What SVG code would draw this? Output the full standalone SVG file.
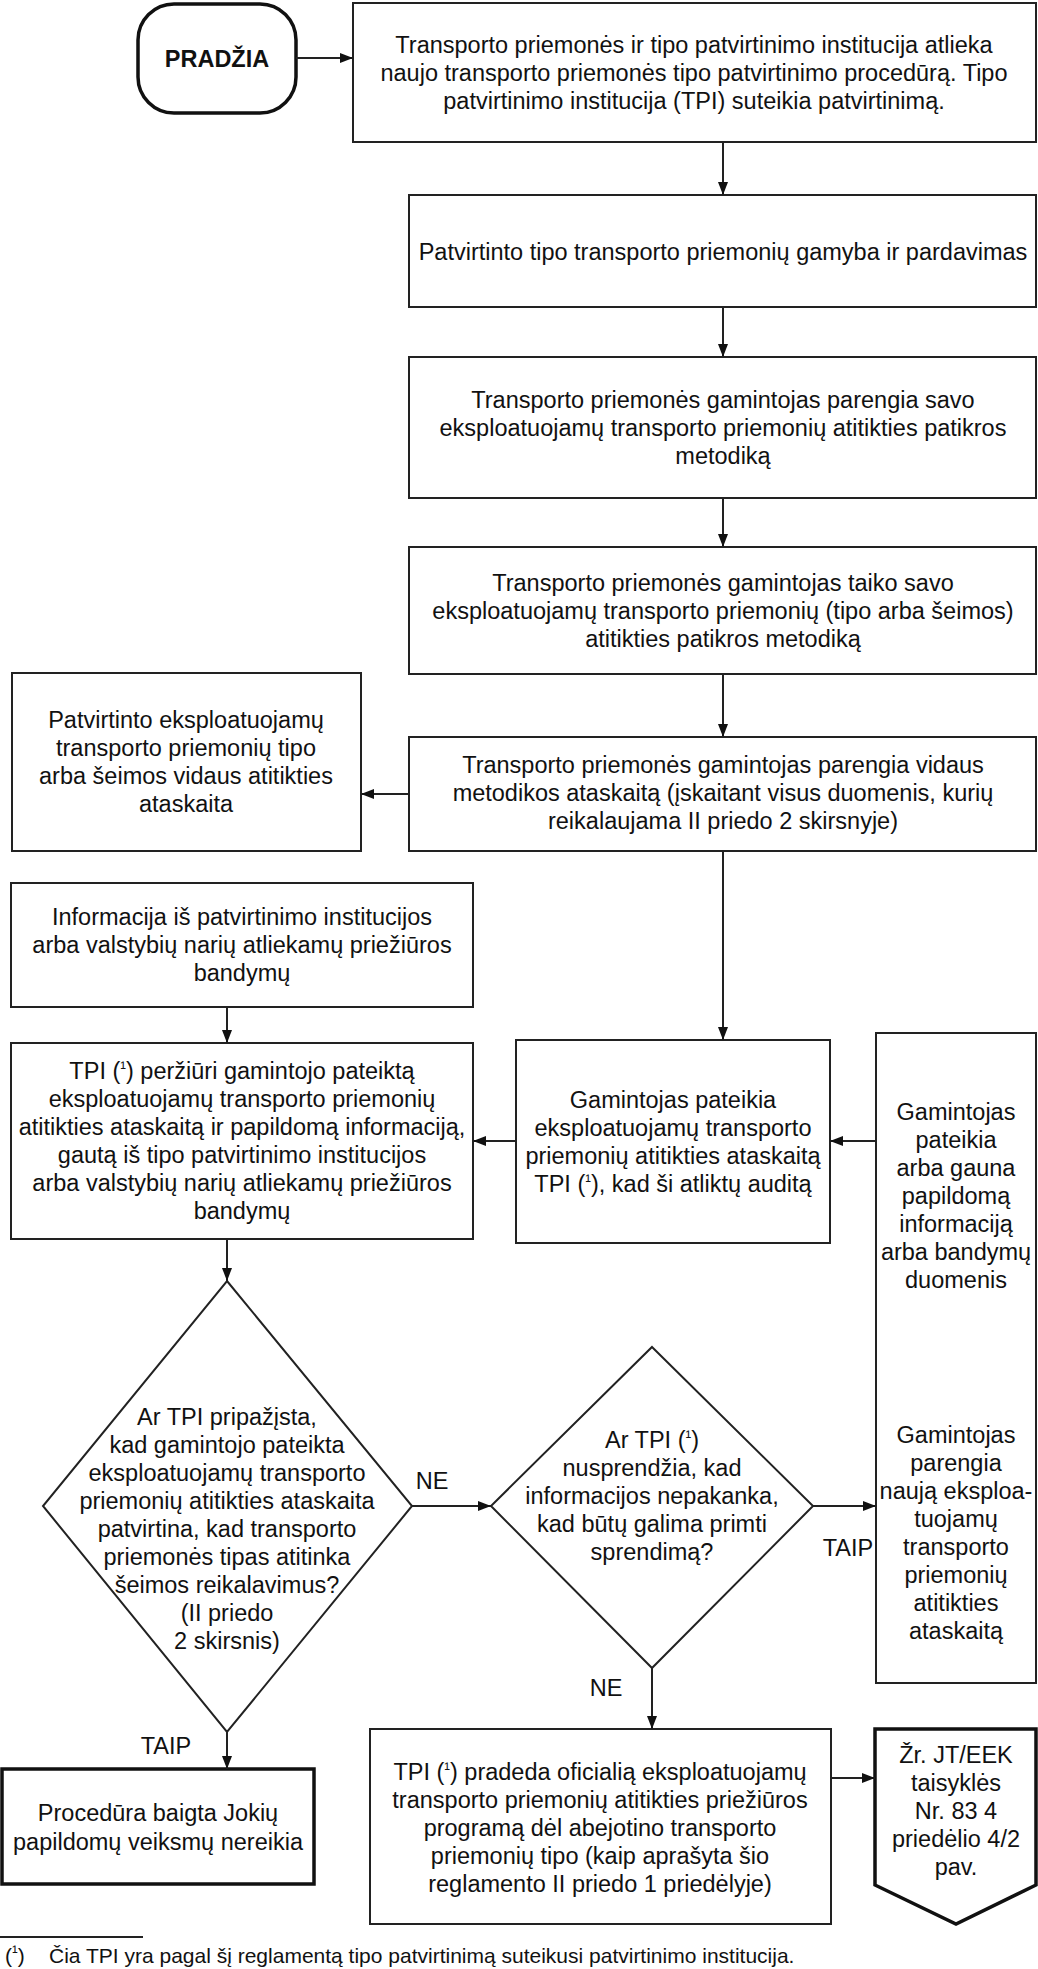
<svg xmlns="http://www.w3.org/2000/svg" width="1038" height="1969" viewBox="0 0 1038 1969">
<style>
text{font-family:"Liberation Sans",Arial,sans-serif;font-size:23.5px;fill:#111;text-anchor:middle}
.box{fill:#fff;stroke:#222;stroke-width:2}
.thick{fill:#fff;stroke:#111;stroke-width:3.5}
.con{fill:none;stroke:#222;stroke-width:2;marker-end:url(#ah)}
.lbl{font-size:23.5px}
.fn{font-size:21px;text-anchor:start}
.sup{font-size:17px;baseline-shift:5px}
</style>
<defs>
<marker id="ah" markerUnits="userSpaceOnUse" markerWidth="14" markerHeight="12" refX="13" refY="5" orient="auto">
<path d="M0,0 L13,5 L0,10 z" fill="#111"/>
</marker>
</defs>
<rect width="1038" height="1969" fill="#fff"/>

<g id="start">
<rect class="thick" x="138" y="4" width="158" height="109" rx="36" ry="36"/>
<text x="217" y="67" font-weight="bold">PRADŽIA</text>
</g>

<g id="n1">
<rect class="box" x="353" y="3" width="683" height="139"/>
<text x="694" y="53">Transporto priemonės ir tipo patvirtinimo institucija atlieka</text>
<text x="694" y="81">naujo transporto priemonės tipo patvirtinimo procedūrą. Tipo</text>
<text x="694" y="109">patvirtinimo institucija (TPI) suteikia patvirtinimą.</text>
</g>

<g id="n2">
<rect class="box" x="409" y="195" width="627" height="112"/>
<text x="723" y="260">Patvirtinto tipo transporto priemonių gamyba ir pardavimas</text>
</g>

<g id="n3">
<rect class="box" x="409" y="357" width="627" height="141"/>
<text x="723" y="408">Transporto priemonės gamintojas parengia savo</text>
<text x="723" y="436">eksploatuojamų transporto priemonių atitikties patikros</text>
<text x="723" y="464">metodiką</text>
</g>

<g id="n4">
<rect class="box" x="409" y="547" width="627" height="127"/>
<text x="723" y="591">Transporto priemonės gamintojas taiko savo</text>
<text x="723" y="619">eksploatuojamų transporto priemonių (tipo arba šeimos)</text>
<text x="723" y="647">atitikties patikros metodiką</text>
</g>

<g id="n5">
<rect class="box" x="409" y="737" width="627" height="114"/>
<text x="723" y="773">Transporto priemonės gamintojas parengia vidaus</text>
<text x="723" y="801">metodikos ataskaitą (įskaitant visus duomenis, kurių</text>
<text x="723" y="829">reikalaujama II priedo 2 skirsnyje)</text>
</g>

<g id="n6">
<rect class="box" x="12" y="673" width="349" height="178"/>
<text x="186" y="728">Patvirtinto eksploatuojamų</text>
<text x="186" y="756">transporto priemonių tipo</text>
<text x="186" y="784">arba šeimos vidaus atitikties</text>
<text x="186" y="812">ataskaita</text>
</g>

<g id="n7">
<rect class="box" x="11" y="883" width="462" height="124"/>
<text x="242" y="925">Informacija iš patvirtinimo institucijos</text>
<text x="242" y="953">arba valstybių narių atliekamų priežiūros</text>
<text x="242" y="981">bandymų</text>
</g>

<g id="n8">
<rect class="box" x="11" y="1043" width="462" height="196"/>
<text x="242" y="1079">TPI (<tspan class="sup">¹</tspan>) peržiūri gamintojo pateiktą</text>
<text x="242" y="1107">eksploatuojamų transporto priemonių</text>
<text x="242" y="1135">atitikties ataskaitą ir papildomą informaciją,</text>
<text x="242" y="1163">gautą iš tipo patvirtinimo institucijos</text>
<text x="242" y="1191">arba valstybių narių atliekamų priežiūros</text>
<text x="242" y="1219">bandymų</text>
</g>

<g id="n9">
<rect class="box" x="516" y="1040" width="314" height="203"/>
<text x="673" y="1108">Gamintojas pateikia</text>
<text x="673" y="1136">eksploatuojamų transporto</text>
<text x="673" y="1164">priemonių atitikties ataskaitą</text>
<text x="673" y="1192">TPI (<tspan class="sup">¹</tspan>), kad ši atliktų auditą</text>
</g>

<g id="n10">
<rect class="box" x="876" y="1033" width="160" height="650"/>
<text x="956" y="1120">Gamintojas</text>
<text x="956" y="1148">pateikia</text>
<text x="956" y="1176">arba gauna</text>
<text x="956" y="1204">papildomą</text>
<text x="956" y="1232">informaciją</text>
<text x="956" y="1260">arba bandymų</text>
<text x="956" y="1288">duomenis</text>
<text x="956" y="1443">Gamintojas</text>
<text x="956" y="1471">parengia</text>
<text x="956" y="1499">naują eksploa-</text>
<text x="956" y="1527">tuojamų</text>
<text x="956" y="1555">transporto</text>
<text x="956" y="1583">priemonių</text>
<text x="956" y="1611">atitikties</text>
<text x="956" y="1639">ataskaitą</text>
</g>

<g id="d1">
<polygon class="box" points="227,1281 412,1506 227,1732 43,1506"/>
<text x="227" y="1425">Ar TPI pripažįsta,</text>
<text x="227" y="1453">kad gamintojo pateikta</text>
<text x="227" y="1481">eksploatuojamų transporto</text>
<text x="227" y="1509">priemonių atitikties ataskaita</text>
<text x="227" y="1537">patvirtina, kad transporto</text>
<text x="227" y="1565">priemonės tipas atitinka</text>
<text x="227" y="1593">šeimos reikalavimus?</text>
<text x="227" y="1621">(II priedo</text>
<text x="227" y="1649">2 skirsnis)</text>
</g>

<g id="d2">
<polygon class="box" points="652,1347 813,1506 652,1668 491,1506"/>
<text x="652" y="1448">Ar TPI (<tspan class="sup">¹</tspan>)</text>
<text x="652" y="1476">nusprendžia, kad</text>
<text x="652" y="1504">informacijos nepakanka,</text>
<text x="652" y="1532">kad būtų galima primti</text>
<text x="652" y="1560">sprendimą?</text>
</g>

<g id="n11">
<rect class="thick" x="2" y="1769" width="312" height="115"/>
<text x="158" y="1821">Procedūra baigta Jokių</text>
<text x="158" y="1850">papildomų veiksmų nereikia</text>
</g>

<g id="n12">
<rect class="box" x="370" y="1729" width="461" height="195"/>
<text x="600" y="1780">TPI (<tspan class="sup">¹</tspan>) pradeda oficialią eksploatuojamų</text>
<text x="600" y="1808">transporto priemonių atitikties priežiūros</text>
<text x="600" y="1836">programą dėl abejotino transporto</text>
<text x="600" y="1864">priemonių tipo (kaip aprašyta šio</text>
<text x="600" y="1892">reglamento II priedo 1 priedėlyje)</text>
</g>

<g id="n13">
<polygon class="thick" points="875,1729 1036,1729 1036,1885 956,1924 875,1885"/>
<text x="956" y="1763">Žr. JT/EEK</text>
<text x="956" y="1791">taisyklės</text>
<text x="956" y="1819">Nr. 83 4</text>
<text x="956" y="1847">priedėlio 4/2</text>
<text x="956" y="1875">pav.</text>
</g>

<g id="connectors">
<line class="con" x1="296" y1="58" x2="353" y2="58"/>
<line class="con" x1="723" y1="142" x2="723" y2="195"/>
<line class="con" x1="723" y1="307" x2="723" y2="357"/>
<line class="con" x1="723" y1="498" x2="723" y2="547"/>
<line class="con" x1="723" y1="674" x2="723" y2="737"/>
<line class="con" x1="409" y1="794" x2="361" y2="794"/>
<line class="con" x1="723" y1="851" x2="723" y2="1040"/>
<line class="con" x1="227" y1="1007" x2="227" y2="1043"/>
<line class="con" x1="876" y1="1141" x2="830" y2="1141"/>
<line class="con" x1="516" y1="1141" x2="473" y2="1141"/>
<line class="con" x1="227" y1="1239" x2="227" y2="1281"/>
<line class="con" x1="412" y1="1506" x2="491" y2="1506"/>
<line class="con" x1="813" y1="1506" x2="876" y2="1506"/>
<line class="con" x1="652" y1="1668" x2="652" y2="1729"/>
<line class="con" x1="227" y1="1732" x2="227" y2="1769"/>
<line class="con" x1="831" y1="1778" x2="875" y2="1778"/>
<text class="lbl" x="432" y="1489">NE</text>
<text class="lbl" x="848" y="1556">TAIP</text>
<text class="lbl" x="606" y="1696">NE</text>
<text class="lbl" x="166" y="1754">TAIP</text>
</g>

<g id="footnote">
<line x1="0" y1="1937" x2="143" y2="1937" stroke="#222" stroke-width="2"/>
<text class="fn" x="5" y="1963">(<tspan class="sup">¹</tspan>)</text>
<text class="fn" x="49" y="1963">Čia TPI yra pagal šį reglamentą tipo patvirtinimą suteikusi patvirtinimo institucija.</text>
</g>
</svg>
